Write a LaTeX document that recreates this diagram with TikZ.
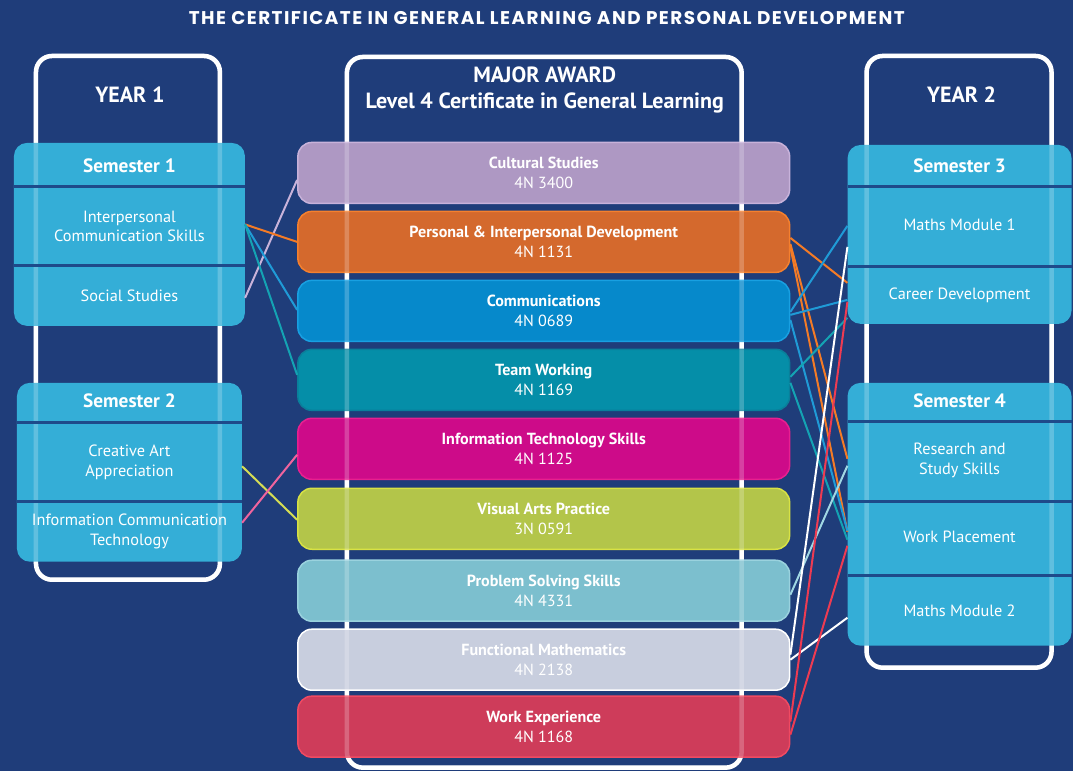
\documentclass[tikz,border=0pt]{standalone}
\usepackage{fontspec}
\setmainfont{PT Sans}
\newfontfamily\titlefont[LetterSpace=8]{Poppins}
\usepackage{tikz}

\definecolor{bg}{HTML}{1F3D7A}
\definecolor{semblue}{HTML}{34AED7}
\definecolor{semline}{HTML}{1E4A8A}
\definecolor{csfill}{HTML}{AE98C3}
\definecolor{csedge}{HTML}{C8B2DA}
\definecolor{ppdfill}{HTML}{D4692D}
\definecolor{ppdedge}{HTML}{F5802E}
\definecolor{comfill}{HTML}{0689CB}
\definecolor{comedge}{HTML}{18A0E2}
\definecolor{twfill}{HTML}{058EA8}
\definecolor{twedge}{HTML}{0A7F9A}
\definecolor{itsfill}{HTML}{CD0B89}
\definecolor{itsedge}{HTML}{E8208F}
\definecolor{vapfill}{HTML}{B3C54A}
\definecolor{vapedge}{HTML}{D8E244}
\definecolor{pssfill}{HTML}{7CBFCE}
\definecolor{pssedge}{HTML}{9AD2DE}
\definecolor{fmfill}{HTML}{C8CEDE}
\definecolor{fmedge}{HTML}{FFFFFF}
\definecolor{wefill}{HTML}{CE3C5A}
\definecolor{weedge}{HTML}{F04A62}
\definecolor{lilacln}{HTML}{C9B3DA}
\definecolor{orangeln}{HTML}{F47B26}
\definecolor{blueln}{HTML}{1F9BD7}
\definecolor{tealln}{HTML}{14A3B3}
\definecolor{limeln}{HTML}{D5DD55}
\definecolor{pinkln}{HTML}{F0649E}
\definecolor{skyln}{HTML}{A0D7E3}
\definecolor{redln}{HTML}{EE3B52}

\begin{document}
\begin{tikzpicture}[x=1pt, y=-1pt,
    frame/.style={draw=white, line width=4.5pt, rounded corners=16pt},
    glint/.style={frame, draw opacity=0.22},
    sembox/.style={fill=semblue, rounded corners=13pt, inner sep=0pt},
    semhead/.style={text=white, font=\bfseries\fontsize{19.3}{22}\selectfont},
    sect/.style={text=white, align=center, inner sep=0pt, font=\fontsize{16.3}{20}\selectfont},
    divider/.style={draw=semline, line width=3pt},
    module/.style={minimum width=492pt, minimum height=61pt, rounded corners=14pt, line width=1.5pt,
      align=center, text=white, inner sep=0pt, font=\fontsize{16.1}{20}\selectfont},
    heading/.style={text=white, align=center, font=\bfseries\fontsize{22}{26}\selectfont},
    link/.style={line width=2pt}]

      \fill[bg] (0,0) rectangle (1073,771);

      \node[text=white, font=\titlefont\bfseries\fontsize{18.4}{20}\selectfont] (title) at (547,18)
        {THE CERTIFICATE IN GENERAL LEARNING AND PERSONAL DEVELOPMENT};

      \draw[frame] (36,56) rectangle (220,580);
      \draw[frame] (867,56) rectangle (1052,668);
      \draw[frame] (347,57) rectangle (742,768);

      \node[heading] (year1) at (130,95) {YEAR 1};
      \node[heading] (year2) at (962,95) {YEAR 2};
      \node[heading] (award) at (545,90) {MAJOR AWARD\\Level 4 Certificate in General Learning};

      \node[sembox, minimum width=231pt, minimum height=183pt] (sem1) at (129.5,234.5) {};
      \node[sembox, minimum width=225pt, minimum height=179pt] (sem2) at (129.5,472.5) {};
      \node[sembox, minimum width=224pt, minimum height=179pt] (sem3) at (960,234.5) {};
      \node[sembox, minimum width=224pt, minimum height=263pt] (sem4) at (960,514.5) {};

      \node[module, fill=csfill, draw=csedge] (cs) at (544,173) {\textbf{Cultural Studies}\\4N 3400};
      \node[module, fill=ppdfill, draw=ppdedge] (ppd) at (544,242) {\textbf{Personal \& Interpersonal Development}\\4N 1131};
      \node[module, fill=comfill, draw=comedge] (com) at (544,311) {\textbf{Communications}\\4N 0689};
      \node[module, fill=twfill, draw=twedge] (tw) at (544,380) {\textbf{Team Working}\\4N 1169};
      \node[module, fill=itsfill, draw=itsedge] (its) at (544,449) {\textbf{Information Technology Skills}\\4N 1125};
      \node[module, fill=vapfill, draw=vapedge] (vap) at (544,519) {\textbf{Visual Arts Practice}\\3N 0591};
      \node[module, fill=pssfill, draw=pssedge] (pss) at (544,591) {\textbf{Problem Solving Skills}\\4N 4331};
      \node[module, fill=fmfill, draw=fmedge] (fm) at (544,660) {\textbf{Functional Mathematics}\\4N 2138};
      \node[module, fill=wefill, draw=weedge] (we) at (544,727) {\textbf{Work Experience}\\4N 1168};

      \draw[glint] (36,56) rectangle (220,580);
      \draw[glint] (867,56) rectangle (1052,668);
      \draw[glint] (347,57) rectangle (742,768);

      \draw[divider] (14,187) -- (245,187);
      \draw[divider] (14,266) -- (245,266);
      \draw[divider] (17,423) -- (242,423);
      \draw[divider] (17,502) -- (242,502);
      \draw[divider] (848,187) -- (1072,187);
      \draw[divider] (848,267) -- (1072,267);
      \draw[divider] (848,422) -- (1072,422);
      \draw[divider] (848,502) -- (1072,502);
      \draw[divider] (848,576) -- (1072,576);

      \node[semhead] (s1) at (129.5,166) {Semester 1};
      \node[sect, minimum width=231pt, minimum height=79pt] (ics) at (129.5,226.5) {Interpersonal\\Communication Skills};
      \node[sect, minimum width=231pt, minimum height=60pt] (ss) at (129.5,296) {Social Studies};
      \node[semhead] (s2) at (129.5,401) {Semester 2};
      \node[sect, minimum width=225pt, minimum height=79pt] (caa) at (129.5,462.5) {Creative Art\\Appreciation};
      \node[sect, minimum width=225pt, minimum height=60pt] (ict) at (129.5,532) {Information Communication\\Technology};

      \node[semhead] (s3) at (960,166) {Semester 3};
      \node[sect, minimum width=224pt, minimum height=80pt] (mm1) at (960,225) {Maths Module 1};
      \node[sect, minimum width=224pt, minimum height=57pt] (cd) at (960,295) {Career Development};
      \node[semhead] (s4) at (960,401) {Semester 4};
      \node[sect, minimum width=224pt, minimum height=80pt] (rss) at (960,461) {Research and\\Study Skills};
      \node[sect, minimum width=224pt, minimum height=74pt] (wp) at (960,537) {Work Placement};
      \node[sect, minimum width=224pt, minimum height=70pt] (mm2) at (960,611) {Maths Module 2};

      \draw[link, lilacln] ([yshift=-2pt]ss.east) -- ([yshift=-7pt]cs.west);
      \draw[link, orangeln] ([yshift=2pt]ics.east) -- (ppd.west);
      \draw[link, blueln] ([yshift=2pt]ics.east) -- ([yshift=1pt]com.west);
      \draw[link, tealln] ([yshift=2pt]ics.east) -- ([yshift=5pt]tw.west);
      \draw[link, limeln] ([yshift=-4pt]caa.east) -- ([yshift=-1pt]vap.west);
      \draw[link, pinkln] ([yshift=9pt]ict.east) -- ([yshift=-6pt]its.west);

      \draw[link, orangeln] ([yshift=4pt]ppd.east) -- ([yshift=12pt]cd.west);
      \draw[link, orangeln] ([yshift=-2pt]ppd.east) -- ([yshift=2pt]rss.west);
      \draw[link, orangeln] ([yshift=-5pt]ppd.east) -- ([yshift=5pt]wp.west);
      \draw[link, blueln] ([yshift=-1pt]com.east) -- ([yshift=-1pt]mm1.west);
      \draw[link, blueln] ([yshift=-4pt]com.east) -- ([yshift=-5pt]cd.west);
      \draw[link, blueln] ([yshift=-9pt]com.east) -- ([yshift=6pt]wp.west);
      \draw[link, tealln] ([yshift=3pt]tw.east) -- ([yshift=-23pt]cd.west);
      \draw[link, tealln] ([yshift=-3pt]tw.east) -- ([yshift=-3pt]wp.west);
      \draw[link, skyln] ([yshift=-4pt]pss.east) -- ([yshift=-5pt]rss.west);
      \draw[link, white] ([yshift=5pt]fm.east) -- ([yshift=-22pt]mm1.west);
      \draw[link, white] (fm.east) -- ([yshift=-7pt]mm2.west);
      \draw[link, redln] ([yshift=5pt]we.east) -- ([yshift=-7pt]cd.west);
      \draw[link, redln] ([yshift=-8pt]we.east) -- ([yshift=-9pt]wp.west);
    \end{tikzpicture}
\end{document}
